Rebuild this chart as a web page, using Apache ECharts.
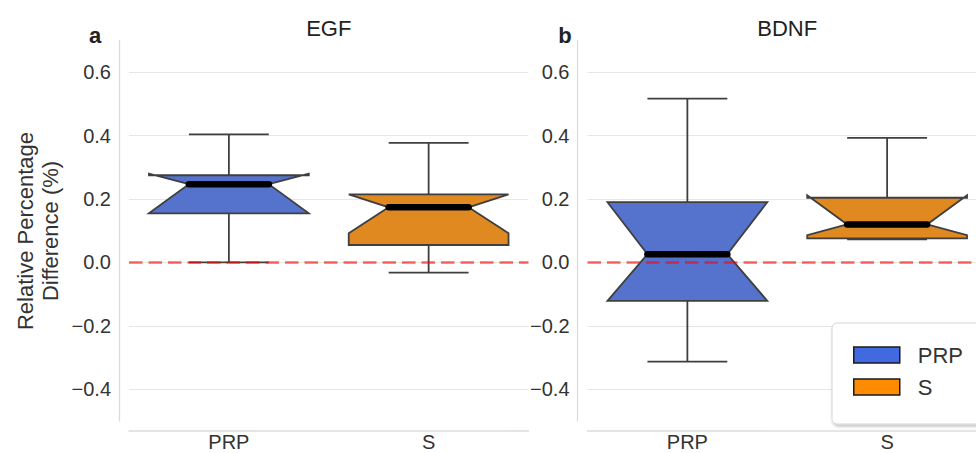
<!DOCTYPE html>
<html>
<head>
<meta charset="utf-8">
<script src="https://cdn.jsdelivr.net/npm/echarts@6/dist/echarts.min.js"></script>
<style>
html,body{margin:0;padding:0;background:#fff;}
#chart{width:976px;height:453px;}
</style>
</head>
<body>
<div id="chart"></div>
<script>
// ---------------- data ----------------
const categories = ['PRP', 'S'];
const panelTitles = ['EGF', 'BDNF'];
const panelLetters = ['a', 'b'];
const yTickValues = [-0.4, -0.2, 0.0, 0.2, 0.4, 0.6];
const referenceLine = 0.0;
// stats: [lower whisker, Q1, notch low, median, notch high, Q3, upper whisker]
const egfPRP  = [0.000, 0.155, 0.155, 0.247, 0.280, 0.275, 0.404];
const egfS    = [-0.032, 0.055, 0.092, 0.174, 0.215, 0.215, 0.377];
const bdnfPRP = [-0.313, -0.121, -0.121, 0.026, 0.190, 0.190, 0.517];
const bdnfS   = [0.073, 0.076, 0.086, 0.120, 0.212, 0.204, 0.393];

// ---------------- styling ----------------
const FONT = '"Liberation Sans", Arial, Helvetica, sans-serif';
const FILL = { PRP: '#5573CD', S: '#DF8920' };
const LEGEND_FILL = { PRP: '#4169E1', S: '#FF8C00' };
const EDGE = '#3f3f3f';
const TEXT = '#333333';

const chart = echarts.init(document.getElementById('chart'), null, { renderer: 'svg' });

function renderNotchedBox(params, api) {
  const cat = api.value(0);
  const wl = api.value(1), q1 = api.value(2), nl = api.value(3), med = api.value(4),
        nh = api.value(5), q3 = api.value(6), wh = api.value(7);
  const bw = api.size([1, 0])[0] * 0.8;
  const cx = api.coord([cat, med])[0];
  const y = v => api.coord([cat, v])[1];
  const L = cx - bw / 2, R = cx + bw / 2, cl = cx - bw / 4, cr = cx + bw / 4;
  const fill = api.visual('color');
  const ls = { stroke: EDGE, lineWidth: 1.8 };
  return {
    type: 'group',
    children: [
      { type: 'line', shape: { x1: cx, y1: y(q1), x2: cx, y2: y(wl) }, style: ls },
      { type: 'line', shape: { x1: cl, y1: y(wl), x2: cr, y2: y(wl) }, style: ls },
      { type: 'line', shape: { x1: cx, y1: y(q3), x2: cx, y2: y(wh) }, style: ls },
      { type: 'line', shape: { x1: cl, y1: y(wh), x2: cr, y2: y(wh) }, style: ls },
      {
        type: 'polygon',
        shape: { points: [
          [L, y(q1)], [L, y(nl)], [cl, y(med)], [L, y(nh)], [L, y(q3)],
          [R, y(q3)], [R, y(nh)], [cr, y(med)], [R, y(nl)], [R, y(q1)]
        ] },
        style: { fill: fill, stroke: EDGE, lineWidth: 1.8, lineJoin: 'miter' }
      },
      { type: 'line', shape: { x1: cl, y1: y(med), x2: cr, y2: y(med) },
        style: { stroke: '#000', lineWidth: 6.5, lineCap: 'round' } }
    ]
  };
}

const panels = [
  { title: panelTitles[0], letter: panelLetters[0], left: 129, PRP: egfPRP, S: egfS },
  { title: panelTitles[1], letter: panelLetters[1], left: 587.5, PRP: bdnfPRP, S: bdnfS }
];
const GRID_TOP = 40.5, GRID_H = 380.5, GRID_W = 399.5;

const grid = [], xAxis = [], yAxis = [], series = [], graphic = [];
panels.forEach((p, i) => {
  grid.push({ left: p.left, top: GRID_TOP, width: GRID_W, height: GRID_H, outerBoundsMode: 'none', containLabel: false });
  xAxis.push({
    type: 'category', gridIndex: i, data: categories, offset: 10,
    axisLine: { show: true, onZero: false, lineStyle: { color: '#dcdcdc', width: 1.5 } },
    axisTick: { show: false },
    axisLabel: { fontSize: 20, lineHeight: 20, color: TEXT, fontFamily: FONT, margin: 1 },
    splitLine: { show: false }
  });
  yAxis.push({
    type: 'value', gridIndex: i, min: -0.5, max: 0.7, offset: 10,
    axisLine: { show: true, onZero: false, lineStyle: { color: '#dcdcdc', width: 1.3 } },
    axisTick: { show: false, customValues: yTickValues },
    axisLabel: {
      customValues: yTickValues, fontSize: 20, color: TEXT, fontFamily: FONT, margin: 8,
      formatter: v => (v < -1e-9 ? '\u2212' : '') + Math.abs(v).toFixed(1)
    },
    splitLine: { show: true, lineStyle: { color: '#e6e6e6', width: 1 } }
  });
  categories.forEach((c, ci) => {
    series.push({
      type: 'custom', name: c, xAxisIndex: i, yAxisIndex: i,
      itemStyle: { color: FILL[c] },
      renderItem: renderNotchedBox,
      encode: { x: 0, y: [1, 2, 3, 4, 5, 6, 7] },
      data: [[ci].concat(p[c])],
      z: 2
    });
  });
  series.push({
    type: 'line', name: 'ref' + i, xAxisIndex: i, yAxisIndex: i, data: [], z: 10,
    markLine: {
      silent: true, symbol: ['none', 'none'], label: { show: false },
      lineStyle: { color: 'rgba(255,0,0,0.6)', width: 2.6, type: [13.5, 6] },
      emphasis: { disabled: true },
      data: [{ yAxis: referenceLine }]
    }
  });
  graphic.push({
    type: 'text', x: p.left + GRID_W / 2, y: 28,
    style: { text: p.title, align: 'center', verticalAlign: 'middle', font: '22px ' + FONT, fill: '#222' }
  });
});
graphic.push({
  type: 'text', x: 95, y: 35,
  style: { text: panelLetters[0], align: 'center', verticalAlign: 'middle', font: 'bold 22px ' + FONT, fill: '#222' }
});
graphic.push({
  type: 'text', x: 565, y: 35,
  style: { text: panelLetters[1], align: 'center', verticalAlign: 'middle', font: 'bold 22px ' + FONT, fill: '#222' }
});
graphic.push({
  type: 'text', x: 37.5, y: 231, rotation: Math.PI / 2,
  style: { text: 'Relative Percentage\nDifference (%)', align: 'center', verticalAlign: 'middle',
           font: '22px ' + FONT, lineHeight: 25, fill: TEXT }
});

chart.setOption({
  animation: false,
  backgroundColor: '#fff',
  grid, xAxis, yAxis, series, graphic,
  legend: {
    data: categories.map(c => ({ name: c, itemStyle: { color: LEGEND_FILL[c], borderColor: '#1a1a1a', borderWidth: 1.5 } })),
    orient: 'vertical', left: 832, top: 323, icon: 'rect',
    itemWidth: 46, itemHeight: 16, itemGap: 10,
    padding: [21, 60, 26, 21],
    backgroundColor: '#fff', borderColor: '#d6d6d6', borderWidth: 1, borderRadius: 5,
    shadowColor: 'rgba(0,0,0,0.25)', shadowBlur: 3, shadowOffsetX: 1, shadowOffsetY: 2,
    textStyle: { fontSize: 22, color: TEXT, fontFamily: FONT, padding: [0, 0, 0, 13] },
    selectedMode: false
  }
});
</script>
</body>
</html>
